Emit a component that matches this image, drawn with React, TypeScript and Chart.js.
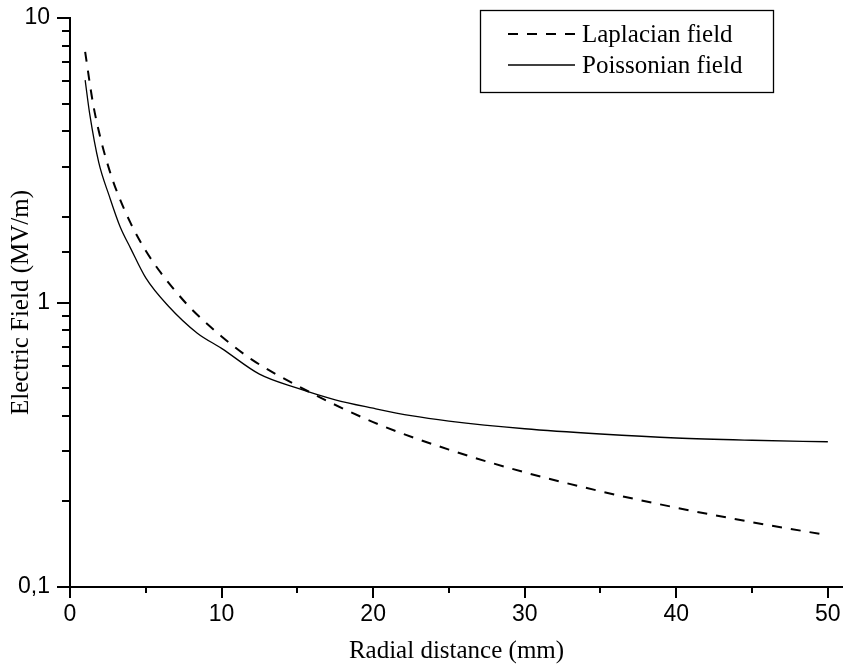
import React, { useEffect, useRef } from 'react';
import { Chart, registerables } from 'chart.js';

Chart.register(...registerables);

// ---- data ----
const laplacianX = [1, 1.5, 2, 2.5, 3, 4, 5, 6, 7, 8, 10, 12, 15, 20, 25, 30, 35, 40, 45, 50];
const laplacianY = [7.6, 5.07, 3.8, 3.04, 2.53, 1.9, 1.52, 1.27, 1.09, 0.95, 0.76, 0.63, 0.51, 0.38, 0.304, 0.253, 0.217, 0.19, 0.169, 0.152];
const poissonX = [1, 1.3, 1.9, 2.6, 3.3, 4, 5, 6.5, 8.4, 10, 12.5, 15, 17.5, 20, 22.5, 25, 30, 35, 40, 45, 50];
const poissonY = [6.05, 4.6, 3.1, 2.36, 1.85, 1.55, 1.22, 0.97, 0.78, 0.69, 0.56, 0.5, 0.455, 0.425, 0.4, 0.383, 0.36, 0.345, 0.334, 0.328, 0.324];
const seriesLabels = ['Laplacian field', 'Poissonian field'];
const xMajorValues = [0, 10, 20, 30, 40, 50];
const xMajorLabels = ['0', '10', '20', '30', '40', '50'];
const yMajorValues = [0.1, 1, 10];
const yMajorLabels = ['0,1', '1', '10'];
const xTitle = 'Radial distance (mm)';
const yTitle = 'Electric Field (MV/m)';

const SANS = "'Liberation Sans', Arial, sans-serif";
const SERIF = "'Liberation Serif', 'Times New Roman', serif";

const near = (a: number, b: number) => Math.abs(a - b) < 1e-9 * Math.max(1, Math.abs(b));

const extrasPlugin = {
  id: 'extras',
  afterDraw(chart: any) {
    const ctx = chart.ctx as CanvasRenderingContext2D;
    const { left, bottom } = chart.chartArea;
    ctx.save();
    ctx.strokeStyle = '#000';
    ctx.lineWidth = 2;
    ctx.setLineDash([]);
    // x tick marks
    const xs = chart.scales.x;
    xs.ticks.forEach((t: any) => {
      const px = Math.round(xs.getPixelForValue(t.value));
      const major = xMajorValues.some((v) => near(v, t.value));
      const len = major ? 11 : 6;
      ctx.beginPath();
      ctx.moveTo(px, bottom);
      ctx.lineTo(px, bottom + len);
      ctx.stroke();
    });
    // y tick marks
    const ys = chart.scales.y;
    ys.ticks.forEach((t: any) => {
      const py = Math.round(ys.getPixelForValue(t.value));
      const major = yMajorValues.some((v) => near(v, t.value));
      const len = major ? 13 : 8;
      ctx.beginPath();
      ctx.moveTo(left, py);
      ctx.lineTo(left - len, py);
      ctx.stroke();
    });

    // legend box
    const bx = 480, by = 10, bw = 293, bh = 82;
    ctx.lineWidth = 1.3;
    ctx.strokeRect(bx + 0.5, by + 0.5, bw, bh);
    const rows = [34, 65];
    chart.data.datasets.forEach((ds: any, i: number) => {
      const y = rows[i];
      ctx.beginPath();
      ctx.lineWidth = ds.borderWidth;
      ctx.setLineDash(ds.borderDash || []);
      ctx.moveTo(508, y);
      ctx.lineTo(575, y);
      ctx.stroke();
      ctx.setLineDash([]);
      ctx.fillStyle = '#000';
      ctx.font = `25px ${SERIF}`;
      ctx.textBaseline = 'middle';
      ctx.textAlign = 'left';
      ctx.fillText(ds.label, 582, y + 1);
    });
    ctx.restore();
  },
};

export default function App() {
  const ref = useRef<HTMLCanvasElement | null>(null);
  useEffect(() => {
    if (!ref.current) return;
    const chart = new Chart(ref.current, {
      type: 'line',
      data: {
        datasets: [
          {
            label: seriesLabels[0],
            data: laplacianX.map((x, i) => ({ x, y: laplacianY[i] })),
            borderColor: '#000',
            borderWidth: 2,
            borderDash: [10, 9],
            pointRadius: 0,
            fill: false,
            cubicInterpolationMode: 'monotone',
          },
          {
            label: seriesLabels[1],
            data: poissonX.map((x, i) => ({ x, y: poissonY[i] })),
            borderColor: '#000',
            borderWidth: 1.3,
            pointRadius: 0,
            fill: false,
            cubicInterpolationMode: 'monotone',
          },
        ],
      },
      options: {
        animation: false,
        responsive: false,
        maintainAspectRatio: false,
        layout: { padding: { top: 18, right: 0, bottom: 0, left: 0 } },
        plugins: { legend: { display: false }, tooltip: { enabled: false } },
        scales: {
          x: {
            type: 'linear',
            min: 0,
            max: 51,
            afterFit: (s: any) => {
              s.height = 79;
              s.paddingLeft = 0;
              s.paddingRight = 0;
              s.paddingTop = 0;
              s.paddingBottom = 0;
            },
            grid: { display: false, drawTicks: false },
            border: { display: true, color: '#000', width: 2 },
            ticks: {
              stepSize: 5,
              includeBounds: false,
              autoSkip: false,
              maxRotation: 0,
              padding: 14,
              color: '#000',
              font: { family: SANS, size: 23 },
              callback: (v: any) => {
                const idx = xMajorValues.findIndex((m) => near(m, Number(v)));
                return idx >= 0 ? xMajorLabels[idx] : '';
              },
            },
            title: {
              display: true,
              text: xTitle,
              color: '#000',
              font: { family: SERIF, size: 25 },
              padding: { top: 0, bottom: 0 },
            },
          },
          y: {
            type: 'logarithmic',
            min: 0.1,
            max: 10,
            afterFit: (s: any) => {
              s.width = 70;
              s.paddingLeft = 0;
              s.paddingRight = 0;
              s.paddingTop = 0;
              s.paddingBottom = 0;
            },
            grid: { display: false, drawTicks: false },
            border: { display: true, color: '#000', width: 2 },
            ticks: {
              autoSkip: false,
              padding: 20,
              color: '#000',
              font: { family: SANS, size: 23 },
              callback: (v: any) => {
                const idx = yMajorValues.findIndex((m) => near(m, Number(v)));
                return idx >= 0 ? yMajorLabels[idx] : '';
              },
            },
            title: {
              display: true,
              text: yTitle,
              color: '#000',
              font: { family: SERIF, size: 25 },
              padding: { top: 6, bottom: 0 },
            },
          },
        },
      },
      plugins: [extrasPlugin],
    } as any);
    return () => chart.destroy();
  }, []);
  return (
    <div style={{ position: 'fixed', left: 0, top: 0, width: 843, height: 666, background: '#fff' }}>
      <canvas ref={ref} width={843} height={666} style={{ display: 'block' }} />
    </div>
  );
}
